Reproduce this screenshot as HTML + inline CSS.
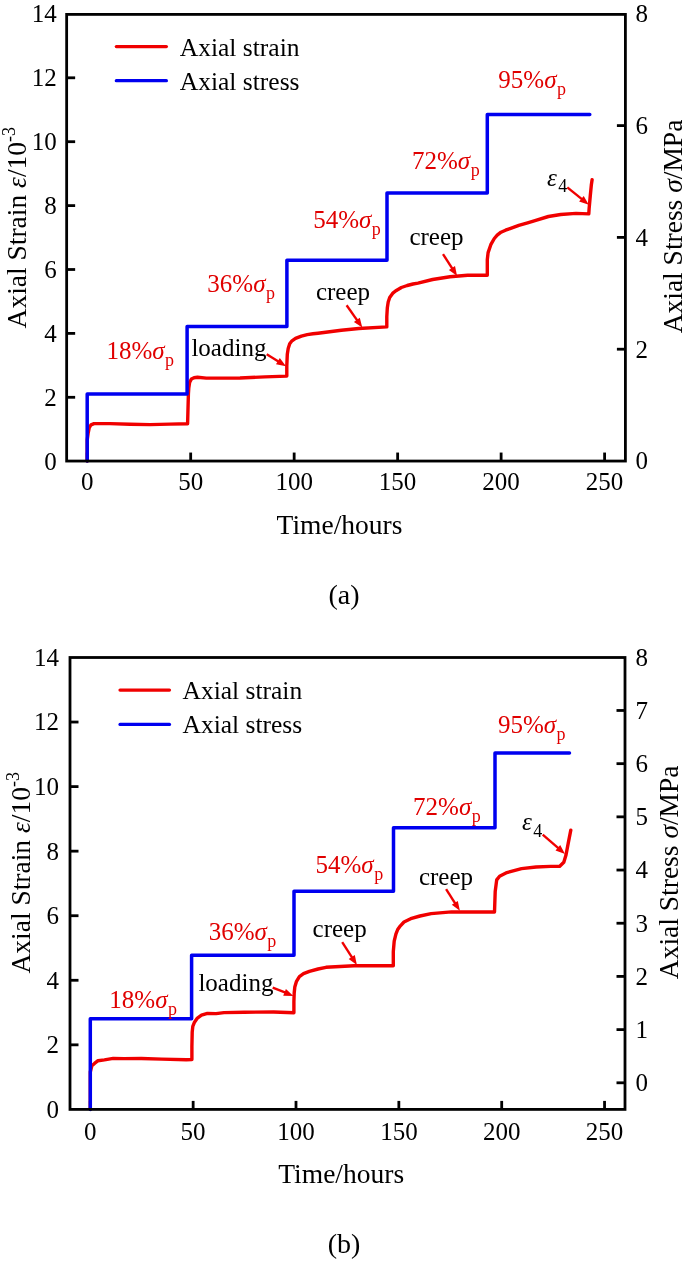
<!DOCTYPE html>
<html><head><meta charset="utf-8"><style>
html,body{margin:0;padding:0;background:#fff;}
body{width:685px;height:1266px;overflow:hidden;}
svg{display:block;will-change:transform;}
.t{font-family:"Liberation Serif",serif;font-size:25px;}
.T{font-family:"Liberation Serif",serif;font-size:27.5px;}
.C{font-family:"Liberation Serif",serif;font-size:28px;}
.L{font-size:25.5px;}
.R{font-family:"Liberation Serif",serif;font-size:27.5px;}
</style></head><body>
<svg width="685" height="1266" viewBox="0 0 685 1266">
<rect width="685" height="1266" fill="#fff"/>
<text id="al0" x="56.8" y="469.6" text-anchor="end" class="t">0</text>
<line x1="66.65" y1="397.3" x2="75.15" y2="397.3" stroke="#000" stroke-width="2.8"/>
<text id="al2" x="56.8" y="405.7" text-anchor="end" class="t">2</text>
<line x1="66.65" y1="333.4" x2="75.15" y2="333.4" stroke="#000" stroke-width="2.8"/>
<text id="al4" x="56.8" y="341.8" text-anchor="end" class="t">4</text>
<line x1="66.65" y1="269.5" x2="75.15" y2="269.5" stroke="#000" stroke-width="2.8"/>
<text id="al6" x="56.8" y="277.9" text-anchor="end" class="t">6</text>
<line x1="66.65" y1="205.6" x2="75.15" y2="205.6" stroke="#000" stroke-width="2.8"/>
<text id="al8" x="56.8" y="214.0" text-anchor="end" class="t">8</text>
<line x1="66.65" y1="141.7" x2="75.15" y2="141.7" stroke="#000" stroke-width="2.8"/>
<text id="al10" x="56.8" y="150.1" text-anchor="end" class="t">10</text>
<line x1="66.65" y1="77.80000000000001" x2="75.15" y2="77.80000000000001" stroke="#000" stroke-width="2.8"/>
<text id="al12" x="56.8" y="86.2" text-anchor="end" class="t">12</text>
<text id="al14" x="56.8" y="22.3" text-anchor="end" class="t">14</text>
<text id="ar0" x="635.4" y="469.4" class="t">0</text>
<line x1="625.4" y1="349.2" x2="616.9" y2="349.2" stroke="#000" stroke-width="2.8"/>
<text id="ar2" x="635.4" y="357.6" class="t">2</text>
<line x1="625.4" y1="237.4" x2="616.9" y2="237.4" stroke="#000" stroke-width="2.8"/>
<text id="ar4" x="635.4" y="245.8" class="t">4</text>
<line x1="625.4" y1="125.60000000000002" x2="616.9" y2="125.60000000000002" stroke="#000" stroke-width="2.8"/>
<text id="ar6" x="635.4" y="134.0" class="t">6</text>
<text id="ar8" x="635.4" y="22.2" class="t">8</text>
<line x1="87.2" y1="461.05" x2="87.2" y2="452.55" stroke="#000" stroke-width="2.8"/>
<text id="ab0" x="87.2" y="489.9" text-anchor="middle" class="t">0</text>
<line x1="190.68" y1="461.05" x2="190.68" y2="452.55" stroke="#000" stroke-width="2.8"/>
<text id="ab50" x="190.7" y="489.9" text-anchor="middle" class="t">50</text>
<line x1="294.15999999999997" y1="461.05" x2="294.15999999999997" y2="452.55" stroke="#000" stroke-width="2.8"/>
<text id="ab100" x="294.2" y="489.9" text-anchor="middle" class="t">100</text>
<line x1="397.64" y1="461.05" x2="397.64" y2="452.55" stroke="#000" stroke-width="2.8"/>
<text id="ab150" x="397.6" y="489.9" text-anchor="middle" class="t">150</text>
<line x1="501.11999999999995" y1="461.05" x2="501.11999999999995" y2="452.55" stroke="#000" stroke-width="2.8"/>
<text id="ab200" x="501.1" y="489.9" text-anchor="middle" class="t">200</text>
<line x1="604.6" y1="461.05" x2="604.6" y2="452.55" stroke="#000" stroke-width="2.8"/>
<text id="ab250" x="604.6" y="489.9" text-anchor="middle" class="t">250</text>
<polyline points="87.2,461.0 87.2,440.0 88.1,433.4 89.3,427.5 91.0,424.8 94.0,423.6 110.0,423.6 130.0,424.3 150.0,424.6 170.0,424.1 187.6,423.7 188.4,394.0 188.8,388.0 189.6,382.5 191.4,379.0 194.0,377.8 197.5,377.3 206.3,378.1 240.0,378.0 265.0,376.9 286.8,376.1 286.8,365.9 287.3,354.2 288.2,348.4 289.7,343.7 292.0,340.8 295.5,338.4 301.4,336.1 307.2,334.6 313.0,333.8 318.0,333.2 341.3,330.2 358.8,328.5 386.8,326.9 386.8,316.7 387.3,308.0 388.2,302.1 389.7,297.4 392.6,293.4 395.5,291.0 401.4,287.5 407.2,285.5 413.0,284.0 418.0,283.1 432.6,279.5 450.0,276.7 467.6,275.3 487.3,275.2 487.3,259.6 488.1,252.6 490.8,244.7 494.3,238.5 497.2,235.2 501.0,232.2 505.5,230.2 510.0,228.6 518.8,225.4 527.6,222.8 535.0,220.6 548.4,216.5 560.7,214.5 576.0,213.4 588.8,213.9 589.1,208.8 590.3,195.5 591.3,185.3 592.1,179.7" fill="none" stroke="#f00000" stroke-width="3.4" stroke-linejoin="round" stroke-linecap="round"/>
<polyline points="87.2,461.0 87.2,394.0 187.1,394.0 187.1,326.5 286.9,326.5 286.9,260.2 387.0,260.2 387.0,193.0 487.3,193.0 487.3,114.6 589.8,114.6" fill="none" stroke="#0000f0" stroke-width="3.5" stroke-linejoin="round" stroke-linecap="round"/>
<rect x="66.65" y="14.4" width="558.75" height="446.65000000000003" fill="none" stroke="#000" stroke-width="2.8"/>
<line x1="116.3" y1="46.6" x2="166.4" y2="46.6" stroke="#f00000" stroke-width="3.2" stroke-linecap="round"/>
<line x1="116.3" y1="80.7" x2="166.4" y2="80.7" stroke="#0000f0" stroke-width="3.2" stroke-linecap="round"/>
<text id="aleg1" x="179.8" y="55.6" class="t L">Axial strain</text>
<text id="aleg2" x="179.8" y="89.7" class="t L">Axial stress</text>
<text id="ap18" x="106.4" y="359.3" class="t" fill="#e00000" font-size="25.8">18%<tspan font-style="italic">σ</tspan><tspan dx="0.5" dy="7" font-size="18">p</tspan></text>
<text id="ap36" x="207.3" y="292.0" class="t" fill="#e00000" font-size="25.8">36%<tspan font-style="italic">σ</tspan><tspan dx="0.5" dy="7" font-size="18">p</tspan></text>
<text id="ap54" x="313.2" y="227.5" class="t" fill="#e00000" font-size="25.8">54%<tspan font-style="italic">σ</tspan><tspan dx="0.5" dy="7" font-size="18">p</tspan></text>
<text id="ap72" x="412.0" y="168.8" class="t" fill="#e00000" font-size="25.8">72%<tspan font-style="italic">σ</tspan><tspan dx="0.5" dy="7" font-size="18">p</tspan></text>
<text id="ap95" x="498.3" y="88.2" class="t" fill="#e00000" font-size="25.8">95%<tspan font-style="italic">σ</tspan><tspan dx="0.5" dy="7" font-size="18">p</tspan></text>
<text id="aa0" x="191.4" y="355.8" class="t">loading</text>
<text id="aa1" x="315.9" y="300.4" class="t">creep</text>
<text id="aa2" x="409.4" y="245.3" class="t">creep</text>
<text id="aeps" x="547.0" y="185.5" class="t"><tspan font-style="italic">ε</tspan><tspan dx="1.5" dy="6.5" font-size="18">4</tspan></text>
<line x1="266.7" y1="354.3" x2="278.8" y2="361.7" stroke="#f00000" stroke-width="2.4"/>
<polygon points="286.0,366.2 276.0,364.3 279.8,358.1" fill="#f00000"/>
<line x1="346.6" y1="305.2" x2="357.4" y2="320.6" stroke="#f00000" stroke-width="2.4"/>
<polygon points="362.3,327.6 353.9,321.9 359.8,317.8" fill="#f00000"/>
<line x1="443" y1="254.1" x2="452.5" y2="268.9" stroke="#f00000" stroke-width="2.4"/>
<polygon points="457.1,276.0 448.9,270.0 455.0,266.1" fill="#f00000"/>
<line x1="567.3" y1="187.4" x2="582.2" y2="199.4" stroke="#f00000" stroke-width="2.4"/>
<polygon points="588.8,204.7 579.1,201.5 583.7,195.9" fill="#f00000"/>
<text id="alt" transform="translate(25.8,227.7) rotate(-90)" text-anchor="middle" class="T">Axial Strain <tspan font-style="italic">ε</tspan>/10<tspan dy="-11" font-size="18">-3</tspan></text>
<text id="art" transform="translate(682.0,226.5) rotate(-90)" text-anchor="middle" class="R">Axial Stress <tspan font-style="italic">σ</tspan>/MPa</text>
<text id="axt" x="339.5" y="533.9" text-anchor="middle" class="T">Time/hours</text>
<text id="acap" x="344.1" y="603.8" text-anchor="middle" class="C">(a)</text>
<text id="bl0" x="59.0" y="1117.8" text-anchor="end" class="t">0</text>
<line x1="70.0" y1="1044.8400000000001" x2="78.5" y2="1044.8400000000001" stroke="#000" stroke-width="2.8"/>
<text id="bl2" x="59.0" y="1053.2" text-anchor="end" class="t">2</text>
<line x1="70.0" y1="980.2800000000001" x2="78.5" y2="980.2800000000001" stroke="#000" stroke-width="2.8"/>
<text id="bl4" x="59.0" y="988.7" text-anchor="end" class="t">4</text>
<line x1="70.0" y1="915.72" x2="78.5" y2="915.72" stroke="#000" stroke-width="2.8"/>
<text id="bl6" x="59.0" y="924.1" text-anchor="end" class="t">6</text>
<line x1="70.0" y1="851.1600000000001" x2="78.5" y2="851.1600000000001" stroke="#000" stroke-width="2.8"/>
<text id="bl8" x="59.0" y="859.6" text-anchor="end" class="t">8</text>
<line x1="70.0" y1="786.6000000000001" x2="78.5" y2="786.6000000000001" stroke="#000" stroke-width="2.8"/>
<text id="bl10" x="59.0" y="795.0" text-anchor="end" class="t">10</text>
<line x1="70.0" y1="722.0400000000001" x2="78.5" y2="722.0400000000001" stroke="#000" stroke-width="2.8"/>
<text id="bl12" x="59.0" y="730.4" text-anchor="end" class="t">12</text>
<text id="bl14" x="59.0" y="665.9" text-anchor="end" class="t">14</text>
<line x1="625.0" y1="1082.8" x2="616.5" y2="1082.8" stroke="#000" stroke-width="2.8"/>
<text id="br0" x="635.4" y="1091.2" class="t">0</text>
<line x1="625.0" y1="1029.61" x2="616.5" y2="1029.61" stroke="#000" stroke-width="2.8"/>
<text id="br1" x="635.4" y="1038.0" class="t">1</text>
<line x1="625.0" y1="976.42" x2="616.5" y2="976.42" stroke="#000" stroke-width="2.8"/>
<text id="br2" x="635.4" y="984.8" class="t">2</text>
<line x1="625.0" y1="923.23" x2="616.5" y2="923.23" stroke="#000" stroke-width="2.8"/>
<text id="br3" x="635.4" y="931.6" class="t">3</text>
<line x1="625.0" y1="870.04" x2="616.5" y2="870.04" stroke="#000" stroke-width="2.8"/>
<text id="br4" x="635.4" y="878.4" class="t">4</text>
<line x1="625.0" y1="816.8499999999999" x2="616.5" y2="816.8499999999999" stroke="#000" stroke-width="2.8"/>
<text id="br5" x="635.4" y="825.2" class="t">5</text>
<line x1="625.0" y1="763.66" x2="616.5" y2="763.66" stroke="#000" stroke-width="2.8"/>
<text id="br6" x="635.4" y="772.1" class="t">6</text>
<line x1="625.0" y1="710.47" x2="616.5" y2="710.47" stroke="#000" stroke-width="2.8"/>
<text id="br7" x="635.4" y="718.9" class="t">7</text>
<text id="br8" x="635.4" y="665.7" class="t">8</text>
<line x1="90.3" y1="1109.4" x2="90.3" y2="1100.9" stroke="#000" stroke-width="2.8"/>
<text id="bb0" x="90.3" y="1139.6" text-anchor="middle" class="t">0</text>
<line x1="193.14999999999998" y1="1109.4" x2="193.14999999999998" y2="1100.9" stroke="#000" stroke-width="2.8"/>
<text id="bb50" x="193.1" y="1139.6" text-anchor="middle" class="t">50</text>
<line x1="296.0" y1="1109.4" x2="296.0" y2="1100.9" stroke="#000" stroke-width="2.8"/>
<text id="bb100" x="296.0" y="1139.6" text-anchor="middle" class="t">100</text>
<line x1="398.85" y1="1109.4" x2="398.85" y2="1100.9" stroke="#000" stroke-width="2.8"/>
<text id="bb150" x="398.9" y="1139.6" text-anchor="middle" class="t">150</text>
<line x1="501.7" y1="1109.4" x2="501.7" y2="1100.9" stroke="#000" stroke-width="2.8"/>
<text id="bb200" x="501.7" y="1139.6" text-anchor="middle" class="t">200</text>
<line x1="604.55" y1="1109.4" x2="604.55" y2="1100.9" stroke="#000" stroke-width="2.8"/>
<text id="bb250" x="604.5" y="1139.6" text-anchor="middle" class="t">250</text>
<polyline points="90.3,1109.0 90.3,1072.0 91.9,1065.7 94.5,1063.4 98.0,1060.7 104.4,1059.9 113.2,1058.4 124.0,1058.6 141.3,1058.5 161.7,1059.1 186.3,1059.7 191.9,1059.6 191.9,1046.7 192.2,1032.1 192.8,1026.3 194.5,1022.2 197.4,1018.1 201.5,1015.2 207.4,1013.4 216.1,1013.6 224.0,1012.6 244.1,1012.2 273.7,1012.0 293.9,1012.8 293.9,1001.7 294.2,993.0 294.8,987.1 296.5,981.3 299.4,976.6 303.5,973.7 309.4,971.4 318.1,969.0 326.0,967.3 354.0,965.8 373.7,965.8 393.3,965.7 393.3,951.7 394.2,941.2 395.9,934.2 397.7,929.5 400.4,925.8 404.0,922.0 410.7,918.7 420.0,916.0 431.1,913.6 451.5,911.9 494.5,912.0 495.2,891.5 496.7,879.9 499.6,876.2 506.9,872.6 521.5,868.6 536.1,867.0 550.7,866.4 559.5,866.4 563.8,862.3 566.0,855.0 568.2,843.4 570.8,830.2" fill="none" stroke="#f00000" stroke-width="3.4" stroke-linejoin="round" stroke-linecap="round"/>
<polyline points="90.3,1109.4 90.3,1018.8 191.6,1018.8 191.6,955.2 294.0,955.2 294.0,891.3 393.5,891.3 393.5,827.8 495.0,827.8 495.0,752.9 569.5,752.9" fill="none" stroke="#0000f0" stroke-width="3.5" stroke-linejoin="round" stroke-linecap="round"/>
<rect x="70.0" y="657.5" width="555.0" height="451.9000000000001" fill="none" stroke="#000" stroke-width="2.8"/>
<line x1="120.0" y1="690.1" x2="169.5" y2="690.1" stroke="#f00000" stroke-width="3.2" stroke-linecap="round"/>
<line x1="120.0" y1="724.4" x2="169.5" y2="724.4" stroke="#0000f0" stroke-width="3.2" stroke-linecap="round"/>
<text id="bleg1" x="182.5" y="699.1" class="t L">Axial strain</text>
<text id="bleg2" x="182.5" y="733.4" class="t L">Axial stress</text>
<text id="bp18" x="109.3" y="1007.7" class="t" fill="#e00000" font-size="25.8">18%<tspan font-style="italic">σ</tspan><tspan dx="0.5" dy="7" font-size="18">p</tspan></text>
<text id="bp36" x="208.7" y="939.7" class="t" fill="#e00000" font-size="25.8">36%<tspan font-style="italic">σ</tspan><tspan dx="0.5" dy="7" font-size="18">p</tspan></text>
<text id="bp54" x="315.5" y="873.3" class="t" fill="#e00000" font-size="25.8">54%<tspan font-style="italic">σ</tspan><tspan dx="0.5" dy="7" font-size="18">p</tspan></text>
<text id="bp72" x="413.1" y="814.6" class="t" fill="#e00000" font-size="25.8">72%<tspan font-style="italic">σ</tspan><tspan dx="0.5" dy="7" font-size="18">p</tspan></text>
<text id="bp95" x="497.9" y="733.3" class="t" fill="#e00000" font-size="25.8">95%<tspan font-style="italic">σ</tspan><tspan dx="0.5" dy="7" font-size="18">p</tspan></text>
<text id="ba0" x="198.4" y="991.3" class="t">loading</text>
<text id="ba1" x="312.6" y="937.3" class="t">creep</text>
<text id="ba2" x="418.9" y="885.1" class="t">creep</text>
<text id="beps" x="522.0" y="830.3" class="t"><tspan font-style="italic">ε</tspan><tspan dx="1.5" dy="6.5" font-size="18">4</tspan></text>
<line x1="272.7" y1="987.6" x2="285.5" y2="992.7" stroke="#f00000" stroke-width="2.4"/>
<polygon points="293.4,995.9 283.2,995.7 285.9,989.0" fill="#f00000"/>
<line x1="342.2" y1="942.2" x2="352.3" y2="957.8" stroke="#f00000" stroke-width="2.4"/>
<polygon points="356.9,964.9 348.7,958.9 354.8,955.0" fill="#f00000"/>
<line x1="446.1" y1="889.1" x2="455.3" y2="903.6" stroke="#f00000" stroke-width="2.4"/>
<polygon points="459.9,910.8 451.8,904.7 457.8,900.9" fill="#f00000"/>
<line x1="542.7" y1="834.6" x2="558.6" y2="848.3" stroke="#f00000" stroke-width="2.4"/>
<polygon points="565.0,853.9 555.5,850.4 560.2,845.0" fill="#f00000"/>
<text id="blt" transform="translate(30.3,872.8) rotate(-90)" text-anchor="middle" class="T">Axial Strain <tspan font-style="italic">ε</tspan>/10<tspan dy="-11" font-size="18">-3</tspan></text>
<text id="brt" transform="translate(678.1,872.3) rotate(-90)" text-anchor="middle" class="R">Axial Stress <tspan font-style="italic">σ</tspan>/MPa</text>
<text id="bxt" x="341.2" y="1182.7" text-anchor="middle" class="T">Time/hours</text>
<text id="bcap" x="344.1" y="1253.1" text-anchor="middle" class="C">(b)</text>
</svg>
</body></html>
